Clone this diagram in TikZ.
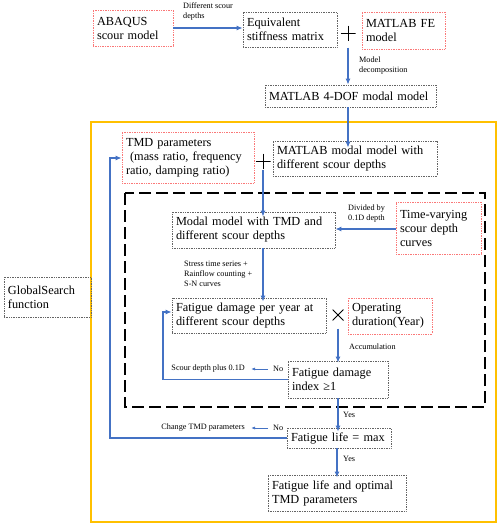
\documentclass[tikz,border=0pt]{standalone}
\usepackage{fontspec}
\setmainfont{Liberation Serif}
\usepackage{tikz}
\usetikzlibrary{arrows.meta}

\definecolor{flowblue}{RGB}{68,114,196}
\definecolor{frameorange}{RGB}{255,192,0}
\definecolor{boxred}{RGB}{250,120,120}
\definecolor{boxgray}{RGB}{100,100,100}

\begin{document}
\begin{tikzpicture}[x=1pt, y=-1pt,
  box/.style={draw=boxgray, densely dotted, line width=0.7pt, align=left, inner xsep=4pt, inner ysep=1pt, font=\fontsize{12.3}{14}\selectfont},
  redbox/.style={box, draw=boxred},
  lbl/.style={font=\fontsize{8.2}{10}\selectfont, align=left, inner sep=0pt},
  plussign/.style={minimum size=15pt, inner sep=0pt, path picture={
    \draw[line width=1pt] (path picture bounding box.north) -- (path picture bounding box.south)
      (path picture bounding box.west) -- (path picture bounding box.east);}},
  timessign/.style={minimum size=11pt, inner sep=0pt, path picture={
    \draw[line width=1pt] (path picture bounding box.north west) -- (path picture bounding box.south east)
      (path picture bounding box.south west) -- (path picture bounding box.north east);}},
  flow/.style={-{Latex[length=6pt,width=5pt]}, flowblue, line width=1.6pt},
  thinflow/.style={-{Latex[length=4pt,width=3pt]}, flowblue, line width=0.8pt}]
\useasboundingbox (0,0) rectangle (500,528);

% Frames
\draw[frameorange, line width=2pt] (91,122) rectangle (496,522);
\draw[black, line width=1.6pt, dash pattern=on 12pt off 5pt] (125,193) rectangle (485,407);

% Model building
\node[redbox, text width=72pt, minimum height=36pt] (abaqus) at (133,28) {ABAQUS\\scour model};
\node[box, text width=86pt, minimum height=35pt] (equiv) at (290,29.5) {Equivalent\\stiffness matrix};
\node[plussign] (plusA) at (348,33) {};
\node[redbox, text width=75pt, minimum height=37pt] (matfe) at (403.5,30.5) {MATLAB FE\\model};
\node[box, text width=163pt, minimum height=22pt] (dof) at (350.5,96) {MATLAB 4-DOF modal model};

% Optimisation loop
\node[redbox, text width=124pt, minimum height=51pt] (tmd) at (188,157.5) {TMD parameters\\\ (mass ratio, frequency\\ratio, damping ratio)};
\node[plussign] (plusB) at (263,161) {};
\node[box, text width=156pt, minimum height=35pt] (modal) at (355,158.5) {MATLAB modal model with\\different scour depths};
\node[box, text width=155pt, minimum height=36pt] (withtmd) at (253.5,230) {Modal model with TMD and\\different scour depths};
\node[redbox, text width=77pt, minimum height=52pt] (curves) at (438.5,228) {Time-varying\\scour depth\\curves};
\node[box, text width=146pt, minimum height=35pt] (peryear) at (249,315.5) {Fatigue damage per year at\\different scour depths};
\node[timessign] (times) at (338,315) {};
\node[redbox, text width=76pt, minimum height=36pt] (duration) at (390,316) {Operating\\duration(Year)};
\node[box, text width=92pt, minimum height=37pt] (index) at (338,379.5) {Fatigue damage\\index ≥1};
\node[box, text width=96pt, minimum height=20pt] (life) at (339,438) {Fatigue life = max};
\node[box, text width=130pt, minimum height=36pt] (optimal) at (337,493) {Fatigue life and optimal\\TMD parameters};
\node[box, text width=79pt, minimum height=40pt] (global) at (47.5,297) {GlobalSearch\\function};

% Labels
\node[lbl, anchor=north west] (lblscour) at (183,3) {Different scour\\depths};
\node[lbl, anchor=north west] (lbldec) at (359,57) {Model\\decomposition};
\node[lbl, anchor=north west] (lbldiv) at (348,205) {Divided by\\0.1D depth};
\node[lbl, anchor=north west] (lblstress) at (184,261) {Stress time series +\\Rainflow counting +\\S-N curves};
\node[lbl, anchor=west] (lblacc) at (349,347) {Accumulation};
\node[lbl, anchor=west] (yesA) at (343,415) {Yes};
\node[lbl, anchor=west] (yesB) at (343,459) {Yes};
\node[lbl, anchor=west] (noA) at (273,369) {No};
\node[lbl, anchor=east] (plusD) at (245,369) {Scour depth plus 0.1D};
\node[lbl, anchor=west] (noB) at (273,428) {No};
\node[lbl, anchor=east] (change) at (245,428) {Change TMD parameters};
\coordinate (loopA) at (163,312);
\coordinate (loopB) at (110,158);

% Arrows
\draw[flow] (abaqus.east |- 0,28) -- (equiv.west |- 0,28);
\draw[flow, shorten <=7pt] (plusA.south) -- (plusA.south |- dof.north);
\draw[flow] (dof.south -| plusA) -- ([yshift=-7pt]modal.north -| plusA);
\draw[flow] ([yshift=-1pt]plusB.south) -- ([yshift=-5pt]withtmd.north -| plusB);
\draw[flow] (curves.west |- 0,229) -- (withtmd.east |- 0,229);
\draw[flow] (withtmd.south -| plusB) -- ([yshift=-4pt]peryear.north -| plusB);
\draw[flow, shorten <=8pt] (times.south -| index) -- ([yshift=-2pt]index.north);
\draw[flow] (index.south) -- ([yshift=-4pt]life.north -| index);
\draw[flow] (life.south -| optimal) -- ([yshift=-3pt]optimal.north);
\draw[flow, line width=1.2pt] (index.west) -| (loopA) -- (peryear.west |- loopA);
\draw[flow, line width=1.2pt] (life.west) -| (loopB) -- (tmd.west |- loopB);
\draw[thinflow, shorten <=5pt, shorten >=6pt] (noA.west) -- (plusD.east);
\draw[thinflow, shorten <=5pt, shorten >=6pt] (noB.west) -- (change.east);
\end{tikzpicture}
\end{document}
